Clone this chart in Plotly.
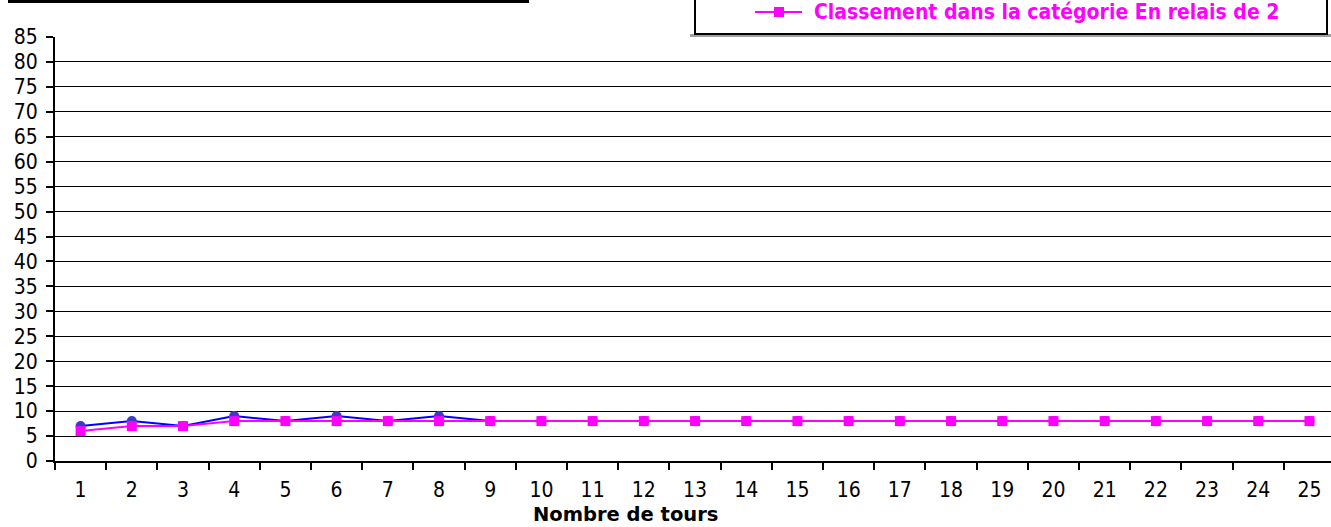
import plotly.graph_objects as go

tours = [str(i) for i in range(1, 26)]
classement_general = [7, 8, 7, 9, 8, 9, 8, 9, 8, 8, 8, 8, 8, 8, 8, 8, 8, 8, 8, 8, 8, 8, 8, 8, 8]
classement_categorie = [6, 7, 7, 8, 8, 8, 8, 8, 8, 8, 8, 8, 8, 8, 8, 8, 8, 8, 8, 8, 8, 8, 8, 8, 8]
nom_categorie = "Classement dans la catégorie En relais de 2"
y_ticks = list(range(0, 90, 5))

W, H = 1331, 527
L, T, B = 55, 37, 66
pw = W - L
ph = H - T - B
FONT = "DejaVu Sans Condensed, DejaVu Sans, sans-serif"
PINK = "#FF00FF"

def px_x(px):
    return (px - L) / pw

def px_y(py):
    return (H - B - py) / ph

fig = go.Figure()
fig.add_trace(go.Scatter(
    x=tours, y=classement_general, mode="lines+markers",
    name="Classement général", showlegend=False,
    line=dict(color="#0000FF", width=2),
    marker=dict(symbol="circle", size=10, color="#3B3BC8"),
))
fig.add_trace(go.Scatter(
    x=tours, y=classement_categorie, mode="lines+markers",
    name=nom_categorie, showlegend=False,
    line=dict(color=PINK, width=2),
    marker=dict(symbol="square", size=10, color=PINK),
))

# legend box (top partly cropped, as in the reference)
shapes = [
    dict(type="rect", xref="paper", yref="paper",
         x0=px_x(690), x1=px_x(1331), y0=px_y(37), y1=px_y(34),
         fillcolor="#A0A0A0", line=dict(width=0), layer="above"),
    dict(type="rect", xref="paper", yref="paper",
         x0=px_x(695), x1=px_x(1327), y0=px_y(34), y1=px_y(-10),
         fillcolor="white", line=dict(color="black", width=2), layer="above"),
    dict(type="line", xref="paper", yref="paper",
         x0=px_x(755), x1=px_x(802), y0=px_y(12), y1=px_y(12),
         line=dict(color=PINK, width=2), layer="above"),
    dict(type="rect", xref="paper", yref="paper",
         x0=px_x(774), x1=px_x(784), y0=px_y(17), y1=px_y(7),
         fillcolor=PINK, line=dict(width=0), layer="above"),
    # cropped title box edge at top left
    dict(type="rect", xref="paper", yref="paper",
         x0=px_x(8), x1=px_x(529), y0=px_y(3), y1=px_y(-5),
         fillcolor="black", line=dict(width=0)),
]

fig.update_layout(
    width=W, height=H,
    margin=dict(l=L, r=0, t=T, b=B, autoexpand=False),
    paper_bgcolor="white", plot_bgcolor="white",
    font=dict(family=FONT, size=21, color="black"),
    showlegend=False,
    xaxis=dict(
        type="category", range=[-0.5, 24.42],
        tickson="boundaries", ticks="outside", ticklen=7, tickwidth=2, tickcolor="black",
        showline=True, linecolor="black", linewidth=2, showgrid=False,
        ticklabelstandoff=9,
        tickfont=dict(family=FONT, size=21),
    ),
    yaxis=dict(
        range=[0, 85], tickmode="array", tickvals=y_ticks,
        ticks="outside", ticklen=7, tickwidth=2, tickcolor="black",
        showline=True, linecolor="black", linewidth=2,
        showgrid=True, gridcolor="black", gridwidth=1,
        zeroline=False, ticklabelstandoff=4,
        tickfont=dict(family=FONT, size=21),
    ),
    annotations=[
        dict(text="Nombre de tours", xref="paper", yref="paper",
             x=px_x(625), y=px_y(514), xanchor="center", yanchor="middle",
             showarrow=False,
             font=dict(family="DejaVu Sans, sans-serif", size=19.5, weight="bold")),
        dict(text=nom_categorie, xref="paper", yref="paper",
             x=px_x(812), y=px_y(12), xanchor="left", yanchor="middle",
             showarrow=False, font=dict(family=FONT, size=21, weight="bold", color=PINK)),
    ],
    shapes=shapes,
)

fig.write_html("out.html", config={"displayModeBar": False},
               post_script="document.body.style.margin='0';")
